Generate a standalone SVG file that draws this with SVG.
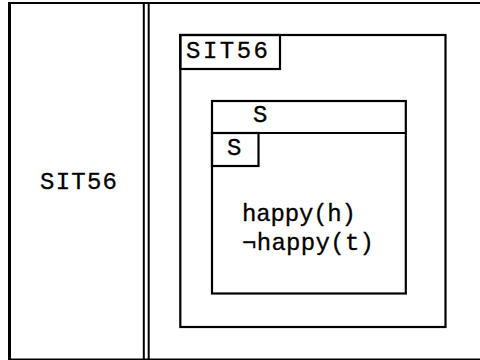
<svg xmlns="http://www.w3.org/2000/svg" width="480" height="360" viewBox="0 0 480 360">
<style>
.t{font-family:"Liberation Mono","DejaVu Sans Mono",monospace;font-size:24px;fill:#000;stroke:#000;stroke-width:0.3}
.b{fill:none;stroke:#000;stroke-width:2.2}
.f{fill:none;stroke:#000}
</style>
<rect x="0" y="0" width="480" height="360" fill="#fff"/>
<g id="frame">
<line class="f" x1="8" y1="3" x2="480" y2="3" stroke-width="2"/>
<line class="f" x1="9.5" y1="2" x2="9.5" y2="360" stroke-width="3"/>
<line class="f" x1="8" y1="359.2" x2="480" y2="359.2" stroke-width="1.6"/>
<line class="f" x1="143.8" y1="3" x2="143.8" y2="360" stroke-width="2"/>
<line class="f" x1="148.7" y1="3" x2="148.7" y2="360" stroke-width="2"/>
</g>
<g id="left-label">
<text class="t" x="40" y="189" textLength="77" lengthAdjust="spacing">SIT56</text>
</g>
<g id="sit56-box">
<rect class="b" x="180.3" y="35" width="265.2" height="292"/>
<rect class="b" x="180.3" y="35" width="99.7" height="34"/>
<text class="t" x="186" y="58" textLength="82" lengthAdjust="spacing">SIT56</text>
</g>
<g id="s-box">
<rect class="b" x="212" y="101" width="193.8" height="192.5"/>
<line class="b" x1="212" y1="133" x2="405.8" y2="133"/>
<text class="t" x="253" y="122">S</text>
<rect class="b" x="212" y="133" width="46.5" height="33"/>
<text class="t" x="227" y="155">S</text>
<text class="t" x="242" y="221" textLength="114" lengthAdjust="spacing">happy(h)</text>
<text class="t" x="242" y="250" textLength="132" lengthAdjust="spacing">¬happy(t)</text>
</g>
<g id="connectors"/>
</svg>
